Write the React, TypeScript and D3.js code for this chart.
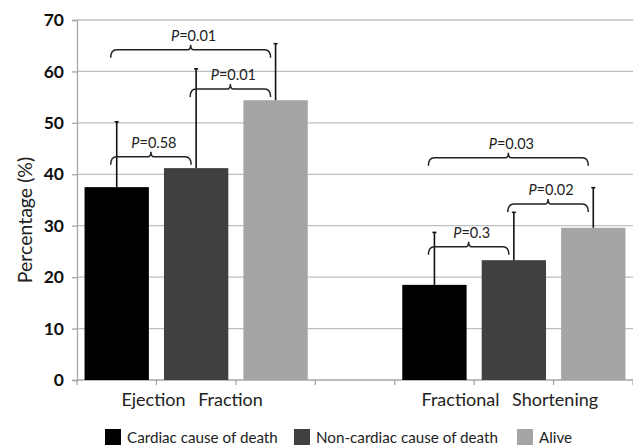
import React, { useEffect, useRef } from 'react';
import * as d3 from 'd3';

const groups = ["Ejection Fraction", "Fractional Shortening"];
const series = ["Cardiac cause of death", "Non-cardiac cause of death", "Alive"];
const colors = ["#000000", "#404040", "#a5a5a5"];
// means and upper error bar tops, per group, per series
const means = [
  [37.5, 41.2, 54.4],
  [18.5, 23.3, 29.6],
];
const errTops = [
  [50.2, 60.5, 65.4],
  [28.7, 32.6, 37.4],
];
const yTicks = [0, 10, 20, 30, 40, 50, 60, 70];
// [group, from series, to series, bracket level, label]
const brackets: [number, number, number, number, string][] = [
  [0, 0, 1, 43.4, "0.58"],
  [0, 1, 2, 56.6, "0.01"],
  [0, 0, 2, 64.2, "0.01"],
  [1, 0, 1, 25.9, "0.3"],
  [1, 1, 2, 34.2, "0.02"],
  [1, 0, 2, 43.2, "0.03"],
];

const App = () => {
  const ref = useRef<SVGSVGElement>(null);

  useEffect(() => {
    const svg = d3.select(ref.current);
    const width = 633;
    const height = 447;
    const marginLeft = 77;
    const marginRight = 0;
    const marginTop = 20;
    const marginBottom = 67;
    const font = "Lato, 'Open Sans', sans-serif";

    svg.selectAll("*").remove();

    // 7 slots: 3 bars, an empty slot, 3 bars
    const slots = d3.range(groups.length * (series.length + 1) - 1);
    const slotOf = (g: number, s: number) => g * (series.length + 1) + s;

    const x = d3.scaleBand<number>()
      .domain(slots)
      .range([marginLeft, width - marginRight])
      .paddingInner(0.19)
      .paddingOuter(0.095);

    const y = d3.scaleLinear()
      .domain([0, 70])
      .range([height - marginBottom, marginTop]);

    const cx = (g: number, s: number) => x(slotOf(g, s))! + x.bandwidth() / 2;

    // gridlines
    svg.append("g")
      .selectAll("line")
      .data(yTicks.filter(d => d > 0))
      .join("line")
        .attr("x1", marginLeft)
        .attr("x2", width - marginRight)
        .attr("y1", d => y(d))
        .attr("y2", d => y(d))
        .attr("stroke", "#bfbfbf")
        .attr("stroke-width", 1.3);

    // y axis
    svg.append("g")
      .attr("transform", `translate(${marginLeft},0)`)
      .call(d3.axisLeft(y).tickValues(yTicks).tickSize(5).tickPadding(8))
      .call(g => g.select(".domain").attr("stroke", "#a6a6a6").attr("stroke-width", 1.3))
      .call(g => g.selectAll(".tick line").attr("stroke", "#a6a6a6").attr("stroke-width", 1.3))
      .call(g => g.selectAll(".tick text")
        .attr("font-family", font)
        .attr("font-size", 17.5)
        .attr("font-weight", "bold")
        .attr("fill", "#111"));

    // x axis baseline with slot ticks
    const xAxis = svg.append("g");
    xAxis.append("line")
      .attr("x1", marginLeft).attr("x2", width - marginRight)
      .attr("y1", y(0)).attr("y2", y(0))
      .attr("stroke", "#a6a6a6").attr("stroke-width", 1.3);
    xAxis.selectAll("line.tk")
      .data(d3.range(slots.length + 1))
      .join("line")
        .attr("class", "tk")
        .attr("x1", d => marginLeft + d * x.step())
        .attr("x2", d => marginLeft + d * x.step())
        .attr("y1", y(0))
        .attr("y2", y(0) + 5)
        .attr("stroke", "#a6a6a6")
        .attr("stroke-width", 1.3);

    xAxis.selectAll("text")
      .data(groups)
      .join("text")
        .attr("x", (d, i) => cx(i, 1) - 4)
        .attr("y", y(0) + 26)
        .attr("text-anchor", "middle")
        .attr("font-family", font)
        .attr("font-size", 18)
        .attr("word-spacing", 8)
        .attr("fill", "#222")
        .text(d => d);

    // bars
    const barData = groups.flatMap((gName, g) =>
      series.map((sName, s) => ({ g, s, v: means[g][s], e: errTops[g][s] })));

    svg.append("g")
      .selectAll("rect")
      .data(barData)
      .join("rect")
        .attr("x", d => x(slotOf(d.g, d.s))!)
        .attr("y", d => y(d.v))
        .attr("width", x.bandwidth())
        .attr("height", d => y(0) - y(d.v))
        .attr("fill", d => colors[d.s]);

    // error bars (upper only)
    const eb = svg.append("g").attr("stroke", "#111").attr("stroke-width", 1.6);
    eb.selectAll("line.v")
      .data(barData)
      .join("line")
        .attr("class", "v")
        .attr("x1", d => cx(d.g, d.s))
        .attr("x2", d => cx(d.g, d.s))
        .attr("y1", d => y(d.v))
        .attr("y2", d => y(d.e));
    eb.selectAll("line.c")
      .data(barData)
      .join("line")
        .attr("class", "c")
        .attr("x1", d => cx(d.g, d.s) - 2)
        .attr("x2", d => cx(d.g, d.s) + 2)
        .attr("y1", d => y(d.e))
        .attr("y2", d => y(d.e));

    // significance brackets
    const bracePath = (x1: number, x2: number, yy: number) => {
      const r = 6, drop = 8, m = (x1 + x2) / 2;
      return `M${x1},${yy + drop} Q${x1},${yy} ${x1 + r},${yy} L${m - 3},${yy} Q${m},${yy} ${m},${yy - 5} ` +
        `Q${m},${yy} ${m + 3},${yy} L${x2 - r},${yy} Q${x2},${yy} ${x2},${yy + drop}`;
    };
    const br = svg.append("g");
    brackets.forEach(([g, a, b, level, p]) => {
      const x1 = cx(g, a) - 6;
      const x2 = cx(g, b) - 5;
      const yy = y(level);
      br.append("path")
        .attr("d", bracePath(x1, x2, yy))
        .attr("fill", "none")
        .attr("stroke", "#222")
        .attr("stroke-width", 1.5);
      const t = br.append("text")
        .attr("x", (x1 + x2) / 2 + 3)
        .attr("y", yy - 9)
        .attr("text-anchor", "middle")
        .attr("font-family", font)
        .attr("font-size", 14.5)
        .attr("fill", "#222");
      t.append("tspan").attr("font-style", "italic").text("P");
      t.append("tspan").text("=" + p);
    });

    // y title
    svg.append("text")
      .attr("transform", `translate(32,${(marginTop + y(0)) / 2 + 20}) rotate(-90)`)
      .attr("text-anchor", "middle")
      .attr("font-family", font)
      .attr("font-size", 19.5)
      .attr("fill", "#222")
      .text("Percentage (%)");

    // legend
    const legendX = [105, 294, 517];
    const lg = svg.append("g");
    series.forEach((name, i) => {
      lg.append("rect")
        .attr("x", legendX[i]).attr("y", 429)
        .attr("width", 16).attr("height", 16)
        .attr("fill", colors[i]);
      lg.append("text")
        .attr("x", legendX[i] + 22).attr("y", 443)
        .attr("font-family", font)
        .attr("font-size", 15.2)
        .attr("fill", "#222")
        .text(name);
    });
  }, []);

  return (
    <svg ref={ref} width={633} height={447}
      style={{ position: "absolute", left: 0, top: 0, background: "#fff" }} />
  );
};

export default App;
